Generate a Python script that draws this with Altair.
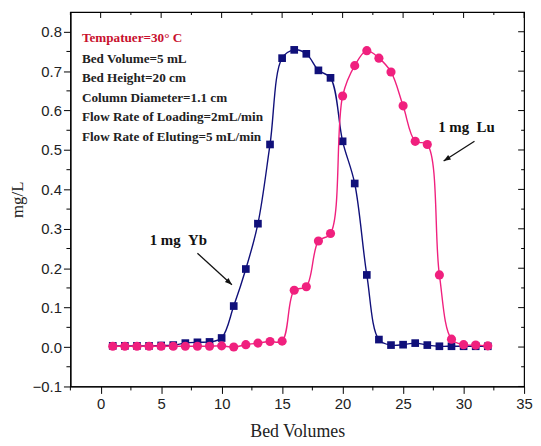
import altair as alt
import pandas as pd

# ---- data ----
bed_volumes = list(range(1, 33))
yb = [0.003, 0.003, 0.003, 0.003, 0.004, 0.005, 0.010, 0.012, 0.013, 0.023,
      0.104, 0.198, 0.313, 0.514, 0.733, 0.754, 0.744, 0.702, 0.683, 0.522,
      0.415, 0.183, 0.019, 0.005, 0.006, 0.010, 0.005, 0.002, 0.002, 0.002,
      0.002, 0.002]
lu = [0.002, 0.002, 0.002, 0.002, 0.002, 0.002, 0.002, 0.002, 0.002, 0.003,
      0.000, 0.006, 0.010, 0.014, 0.015, 0.144, 0.153, 0.269, 0.288, 0.637,
      0.714, 0.752, 0.733, 0.698, 0.612, 0.522, 0.514, 0.183, 0.020, 0.006,
      0.005, 0.003]

info_lines = ["Tempatuer=30\u00b0 C", "Bed Volume=5 mL", "Bed Height=20 cm",
              "Column Diameter=1.1 cm", "Flow Rate of Loading=2mL/min",
              "Flow Rate of Eluting=5 mL/min"]
info_x = [-1.55] * 6
info_y = [0.785, 0.730, 0.682, 0.632, 0.584, 0.534]
info_color = ["#c8102e", "#222222", "#222222", "#222222", "#222222", "#222222"]

labels = ["1 mg\u00a0\u00a0Yb", "1 mg\u00a0\u00a0Lu"]
label_x = [4.05, 27.9]
label_y = [0.272, 0.557]

arrow_x = [8.0, 30.9]
arrow_y = [0.238, 0.522]
arrow_x2 = [10.85, 28.35]
arrow_y2 = [0.158, 0.472]
arrow_angle = [132, 238]

x_major = [0, 5, 10, 15, 20, 25, 30, 35]
x_minor = [-2.5, 2.5, 7.5, 12.5, 17.5, 22.5, 27.5, 32.5]
y_major = [-0.1, 0.0, 0.1, 0.2, 0.3, 0.4, 0.5, 0.6, 0.7, 0.8]
y_minor = [-0.05, 0.05, 0.15, 0.25, 0.35, 0.45, 0.55, 0.65, 0.75]

XDOM = [-2.5, 35]
YDOM = [-0.1, 0.85]
W, H = 458, 378

NAVY = "#10107a"
PINK = "#f0207e"

df = pd.DataFrame({"bv": bed_volumes, "Yb": yb, "Lu": lu})
info = pd.DataFrame({"x": info_x, "y": info_y, "t": info_lines, "c": info_color})
lab = pd.DataFrame({"x": label_x, "y": label_y, "t": labels})
arr = pd.DataFrame({"x": arrow_x, "y": arrow_y, "x2": arrow_x2, "y2": arrow_y2, "a": arrow_angle})
xmaj = pd.DataFrame({"v": x_major})
xmin = pd.DataFrame({"v": x_minor})
ymaj = pd.DataFrame({"v": y_major})
ymin = pd.DataFrame({"v": y_minor})

xscale = alt.Scale(domain=XDOM, nice=False, zero=False)
yscale = alt.Scale(domain=YDOM, nice=False, zero=False)

xaxis = alt.Axis(
    values=x_major, title="Bed Volumes", grid=False, format="d",
    tickSize=7, domain=True, domainColor="black", domainWidth=1.2, ticks=True,
    labelFont="Liberation Sans", labelFontSize=15, labelColor="#222",
    titleFont="Liberation Serif", titleFontSize=18, titleFontWeight="normal", titleColor="#222",
    titlePadding=12, labelPadding=3, tickColor="black",
    labelOverlap=False, labelFlush=False,
)
yaxis = alt.Axis(
    values=y_major, title="mg/L", grid=False, format=".1f",
    tickSize=7, domain=True, domainColor="black", domainWidth=1.2, ticks=True,
    labelFont="Liberation Sans", labelFontSize=15, labelColor="#222",
    titleFont="Liberation Serif", titleFontSize=17, titleFontWeight="normal", titleColor="#222",
    titlePadding=6, labelPadding=2, tickColor="black",
    labelOverlap=False, labelFlush=False,
)

base = alt.Chart(df)

yb_line = base.mark_line(color=NAVY, strokeWidth=1.4, interpolate="catmull-rom").encode(
    x=alt.X("bv:Q", scale=xscale, axis=xaxis),
    y=alt.Y("Yb:Q", scale=yscale, axis=yaxis),
)
yb_pts = base.mark_square(color=NAVY, size=60, opacity=1).encode(x="bv:Q", y="Yb:Q")
lu_line = base.mark_line(color=PINK, strokeWidth=1.4, interpolate="catmull-rom").encode(x="bv:Q", y="Lu:Q")
lu_pts = base.mark_circle(color=PINK, size=85, opacity=1).encode(x="bv:Q", y="Lu:Q")

info_txt = alt.Chart(info).mark_text(
    align="left", baseline="middle", font="Liberation Serif", fontWeight="bold", fontSize=13.3
).encode(x="x:Q", y="y:Q", text="t:N", color=alt.Color("c:N", scale=None))

lab_txt = alt.Chart(lab).mark_text(
    align="left", baseline="middle", font="Liberation Serif", fontWeight="bold", fontSize=15, color="#111"
).encode(x="x:Q", y="y:Q", text="t:N")

arr_line = alt.Chart(arr).mark_rule(color="#111", strokeWidth=1.3).encode(
    x="x:Q", y="y:Q", x2="x2:Q", y2="y2:Q")
arr_head = alt.Chart(arr).mark_point(
    shape="M0,0 L0.38,1 L-0.38,1 Z", filled=True, color="#111", size=200, opacity=1
).encode(x="x2:Q", y="y2:Q", angle=alt.Angle("a:Q", scale=None))

# inward ticks on the mirrored top/right frame, outward minor ticks bottom/left
top_major = alt.Chart(xmaj).mark_rule(color="black").encode(x="v:Q", y=alt.value(0), y2=alt.value(6))
top_minor = alt.Chart(xmin).mark_rule(color="black").encode(x="v:Q", y=alt.value(0), y2=alt.value(3))
right_major = alt.Chart(ymaj).mark_rule(color="black").encode(y="v:Q", x=alt.value(W), x2=alt.value(W - 6))
right_minor = alt.Chart(ymin).mark_rule(color="black").encode(y="v:Q", x=alt.value(W), x2=alt.value(W - 3))
bottom_minor = alt.Chart(xmin).mark_rule(color="black").encode(x="v:Q", y=alt.value(H), y2=alt.value(H + 4))
left_minor = alt.Chart(ymin).mark_rule(color="black").encode(y="v:Q", x=alt.value(0), x2=alt.value(-4))

chart = alt.layer(
    yb_line,
    top_major, top_minor, right_major, right_minor, bottom_minor, left_minor,
    yb_pts, lu_line, lu_pts, info_txt, lab_txt, arr_line, arr_head,
).properties(
    width=W, height=H,
    padding={"left": 0, "top": 1, "right": 0, "bottom": 0},
).configure_view(stroke="#000000", strokeWidth=1.2)

chart.save("out.html", embed_options={"renderer": "svg", "actions": False})
